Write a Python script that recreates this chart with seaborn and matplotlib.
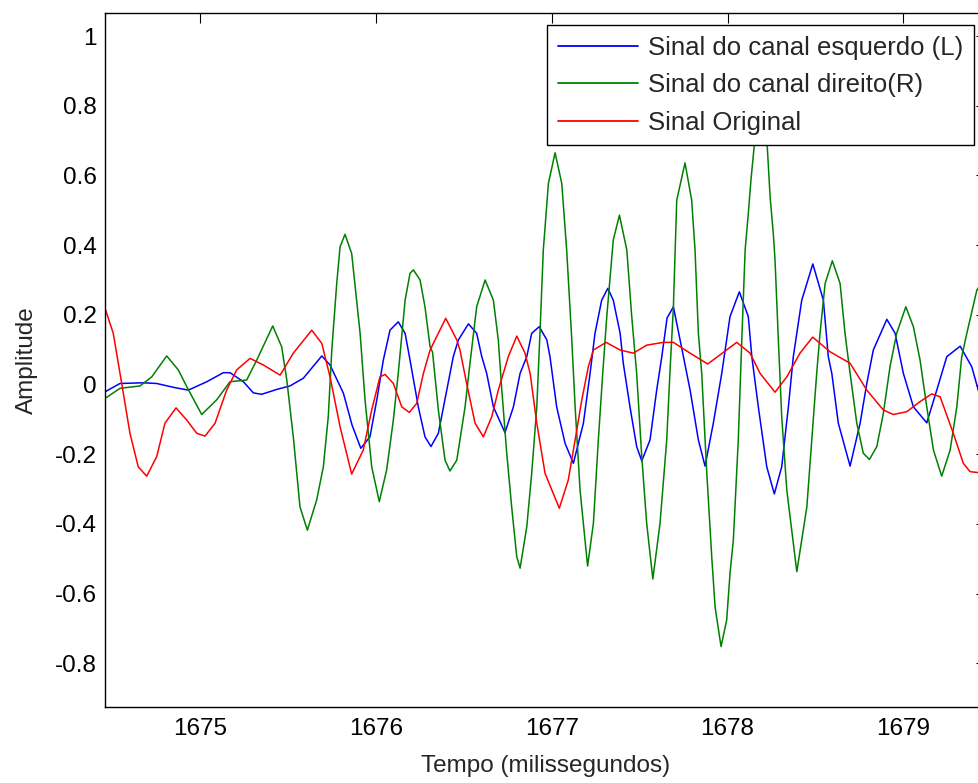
import numpy as np
import pandas as pd
import matplotlib
matplotlib.use("Agg")
import matplotlib.pyplot as plt
import seaborn as sns

# Left channel (L): time in ms, amplitude
t_left = [1674.459, 1674.544, 1674.677, 1674.753, 1674.857, 1674.933, 1675.038, 1675.132,
          1675.170, 1675.246, 1675.303, 1675.350, 1675.436, 1675.511, 1675.587, 1675.692,
          1675.739, 1675.815, 1675.864, 1675.914, 1675.966, 1676.005, 1676.042, 1676.080,
          1676.127, 1676.166, 1676.194, 1676.241, 1676.279, 1676.313, 1676.355, 1676.403,
          1676.440, 1676.469, 1676.526, 1676.573, 1676.602, 1676.630, 1676.668, 1676.734,
          1676.782, 1676.820, 1676.858, 1676.886, 1676.929, 1676.972, 1676.990, 1677.028,
          1677.076, 1677.123, 1677.180, 1677.218, 1677.246, 1677.284, 1677.319, 1677.350,
          1677.389, 1677.407, 1677.445, 1677.483, 1677.512, 1677.559, 1677.597, 1677.626,
          1677.656, 1677.692, 1677.730, 1677.787, 1677.834, 1677.872, 1677.919, 1677.967,
          1678.014, 1678.067, 1678.118, 1678.138, 1678.175, 1678.223, 1678.266, 1678.308,
          1678.346, 1678.374, 1678.422, 1678.485, 1678.545, 1678.573, 1678.593, 1678.630,
          1678.697, 1678.754, 1678.792, 1678.829, 1678.906, 1678.953, 1679.000, 1679.057,
          1679.133, 1679.190, 1679.247, 1679.323, 1679.389, 1679.431]
v_left = [-0.021, 0.003, 0.005, 0.003, -0.009, -0.016, 0.008, 0.034,
          0.034, 0.008, -0.024, -0.028, -0.014, -0.004, 0.018, 0.082,
          0.056, -0.025, -0.116, -0.183, -0.150, -0.044, 0.070, 0.156,
          0.180, 0.147, 0.070, -0.064, -0.150, -0.178, -0.140, -0.016,
          0.080, 0.128, 0.174, 0.147, 0.080, 0.032, -0.064, -0.138,
          -0.064, 0.032, 0.080, 0.147, 0.166, 0.128, 0.080, -0.064,
          -0.169, -0.226, -0.111, 0.032, 0.147, 0.242, 0.276, 0.242,
          0.147, 0.061, -0.064, -0.178, -0.219, -0.159, -0.016, 0.080,
          0.191, 0.223, 0.128, -0.016, -0.159, -0.234, -0.111, 0.032,
          0.195, 0.266, 0.195, 0.080, -0.064, -0.236, -0.314, -0.236,
          -0.064, 0.080, 0.242, 0.346, 0.242, 0.080, 0.032, -0.111,
          -0.234, -0.111, 0.003, 0.099, 0.187, 0.147, 0.032, -0.064,
          -0.110, -0.016, 0.080, 0.110, 0.051, -0.025]

# Right channel (R)
t_right = [1674.459, 1674.544, 1674.658, 1674.725, 1674.810, 1674.876, 1674.924, 1675.009,
           1675.094, 1675.170, 1675.265, 1675.322, 1675.413, 1675.464, 1675.493, 1675.530,
           1675.568, 1675.610, 1675.663, 1675.701, 1675.729, 1675.749, 1675.777, 1675.796,
           1675.824, 1675.862, 1675.910, 1675.938, 1675.976, 1676.019, 1676.061, 1676.099,
           1676.127, 1676.166, 1676.194, 1676.213, 1676.251, 1676.279, 1676.308, 1676.322,
           1676.355, 1676.393, 1676.421, 1676.460, 1676.507, 1676.535, 1676.573, 1676.621,
           1676.668, 1676.696, 1676.716, 1676.744, 1676.772, 1676.801, 1676.820, 1676.858,
           1676.886, 1676.915, 1676.933, 1676.952, 1676.981, 1677.019, 1677.057, 1677.085,
           1677.114, 1677.133, 1677.161, 1677.204, 1677.237, 1677.265, 1677.290, 1677.313,
           1677.350, 1677.385, 1677.427, 1677.455, 1677.483, 1677.512, 1677.540, 1677.575,
           1677.616, 1677.654, 1677.673, 1677.692, 1677.711, 1677.758, 1677.796, 1677.815,
           1677.834, 1677.853, 1677.882, 1677.910, 1677.929, 1677.963, 1677.995, 1678.014,
           1678.033, 1678.061, 1678.081, 1678.100, 1678.118, 1678.134, 1678.151, 1678.189,
           1678.226, 1678.242, 1678.260, 1678.270, 1678.289, 1678.308, 1678.337, 1678.394,
           1678.451, 1678.479, 1678.507, 1678.526, 1678.555, 1678.596, 1678.640, 1678.668,
           1678.697, 1678.735, 1678.772, 1678.807, 1678.849, 1678.886, 1678.924, 1678.962,
           1679.014, 1679.057, 1679.095, 1679.133, 1679.171, 1679.218, 1679.266, 1679.304,
           1679.332, 1679.361, 1679.418, 1679.431]
v_right = [-0.040, -0.011, -0.004, 0.022, 0.082, 0.042, -0.006, -0.086,
           -0.044, 0.008, 0.013, 0.070, 0.168, 0.108, 0.013, -0.150,
           -0.351, -0.418, -0.331, -0.236, -0.092, 0.099, 0.290, 0.395,
           0.431, 0.376, 0.147, -0.044, -0.236, -0.336, -0.245, -0.102,
           0.032, 0.242, 0.319, 0.329, 0.300, 0.223, 0.108, 0.093,
           -0.073, -0.217, -0.248, -0.217, -0.064, 0.061, 0.223, 0.300,
           0.242, 0.128, -0.016, -0.197, -0.351, -0.494, -0.527, -0.408,
           -0.255, -0.064, 0.147, 0.386, 0.577, 0.665, 0.577, 0.386,
           0.128, -0.064, -0.303, -0.521, -0.398, -0.159, 0.032, 0.195,
           0.415, 0.486, 0.386, 0.195, 0.032, -0.207, -0.398, -0.558,
           -0.398, -0.159, 0.042, 0.223, 0.529, 0.636, 0.529, 0.386,
           0.147, 0.032, -0.255, -0.494, -0.638, -0.752, -0.676, -0.542,
           -0.446, -0.159, 0.128, 0.386, 0.491, 0.592, 0.681, 0.800,
           0.681, 0.539, 0.434, 0.357, 0.128, -0.092, -0.303, -0.537,
           -0.351, -0.159, 0.032, 0.147, 0.290, 0.355, 0.290, 0.147,
           0.032, -0.111, -0.197, -0.215, -0.178, -0.083, 0.051, 0.147,
           0.223, 0.166, 0.070, -0.064, -0.188, -0.263, -0.188, -0.064,
           0.080, 0.147, 0.271, 0.281]

# Original signal
t_orig = [1674.459, 1674.506, 1674.554, 1674.601, 1674.648, 1674.696, 1674.753, 1674.800,
          1674.863, 1674.924, 1674.981, 1675.028, 1675.085, 1675.151, 1675.208, 1675.284,
          1675.360, 1675.455, 1675.530, 1675.635, 1675.692, 1675.739, 1675.796, 1675.862,
          1675.928, 1675.976, 1676.023, 1676.052, 1676.099, 1676.147, 1676.190, 1676.232,
          1676.270, 1676.308, 1676.397, 1676.460, 1676.478, 1676.516, 1676.564, 1676.611,
          1676.659, 1676.696, 1676.753, 1676.801, 1676.848, 1676.877, 1676.915, 1676.962,
          1677.043, 1677.094, 1677.133, 1677.171, 1677.208, 1677.237, 1677.309, 1677.389,
          1677.464, 1677.540, 1677.635, 1677.692, 1677.787, 1677.887, 1677.957, 1678.052,
          1678.128, 1678.185, 1678.270, 1678.337, 1678.412, 1678.484, 1678.583, 1678.697,
          1678.792, 1678.886, 1678.943, 1679.019, 1679.095, 1679.161, 1679.209, 1679.284,
          1679.341, 1679.379, 1679.431]
v_orig = [0.219, 0.147, 0.003, -0.140, -0.236, -0.263, -0.207, -0.111,
          -0.067, -0.102, -0.140, -0.148, -0.111, -0.016, 0.042, 0.075,
          0.056, 0.027, 0.090, 0.156, 0.118, 0.022, -0.121, -0.257,
          -0.188, -0.073, 0.022, 0.029, 0.003, -0.064, -0.080, -0.054,
          0.032, 0.099, 0.190, 0.128, 0.099, 0.003, -0.111, -0.150,
          -0.092, -0.016, 0.080, 0.139, 0.090, 0.032, -0.111, -0.255,
          -0.355, -0.274, -0.159, -0.044, 0.051, 0.099, 0.121, 0.099,
          0.090, 0.113, 0.121, 0.121, 0.090, 0.059, 0.085, 0.121,
          0.090, 0.032, -0.022, 0.022, 0.090, 0.136, 0.094, 0.061,
          -0.016, -0.073, -0.086, -0.078, -0.049, -0.027, -0.035, -0.140,
          -0.226, -0.250, -0.253]

labels = ["Sinal do canal esquerdo (L)", "Sinal do canal direito(R)", "Sinal Original"]
colors = ["#0000ff", "#008000", "#ff0000"]
x_ticks = [1675, 1676, 1677, 1678, 1679]
y_ticks = [-0.8, -0.6, -0.4, -0.2, 0, 0.2, 0.4, 0.6, 0.8, 1]

frames = []
for name, t, v in zip(labels, [t_left, t_right, t_orig], [v_left, v_right, v_orig]):
    frames.append(pd.DataFrame({"Tempo": t, "Amplitude": v, "Sinal": name}))
df = pd.concat(frames, ignore_index=True)

sns.set_theme(style="white")
plt.rcParams["font.family"] = ["Liberation Sans", "DejaVu Sans"]

fig = plt.figure(figsize=(9.79, 7.83), dpi=100)
W, H = 979, 783
left, right, top, bottom = 105, 986, 12.7, 706.7
ax = fig.add_axes([left / W, 1 - bottom / H, (right - left) / W, (bottom - top) / H])

sns.lineplot(data=df, x="Tempo", y="Amplitude", hue="Sinal", hue_order=labels,
             palette=colors, sort=False, estimator=None, linewidth=1.1, ax=ax)

ax.set_xlim(1674.459, 1679.47)
ax.set_ylim(-0.9245, 1.067)
ax.set_xticks(x_ticks)
ax.set_xticklabels([str(x) for x in x_ticks])
ax.set_yticks(y_ticks)
ax.set_yticklabels(["-0.8", "-0.6", "-0.4", "-0.2", "0", "0.2", "0.4", "0.6", "0.8", "1"])
ax.tick_params(direction="in", top=True, right=True, length=7.5, width=0.8,
               labelsize=17.5, colors="#000000", pad=8)
ax.tick_params(axis="y", pad=6)
for s in ax.spines.values():
    s.set_color("#000000")
    s.set_linewidth(1.0)
ax.set_xlabel("Tempo (milissegundos)", fontsize=17.5, labelpad=11)
ax.set_ylabel("Amplitude", fontsize=17.5, labelpad=12)

leg = ax.legend(loc="upper right", bbox_to_anchor=(974 / W, 1 - 25 / H),
                bbox_transform=fig.transFigure, borderaxespad=0, fontsize=18.5,
                frameon=True, fancybox=False, framealpha=1, edgecolor="#000000",
                handlelength=3.1, handletextpad=0.4, labelspacing=0.52, borderpad=0.42)
leg.get_frame().set_linewidth(1.0)
for line in leg.get_lines():
    line.set_linewidth(1.3)

fig.savefig("out.png", dpi=100)
